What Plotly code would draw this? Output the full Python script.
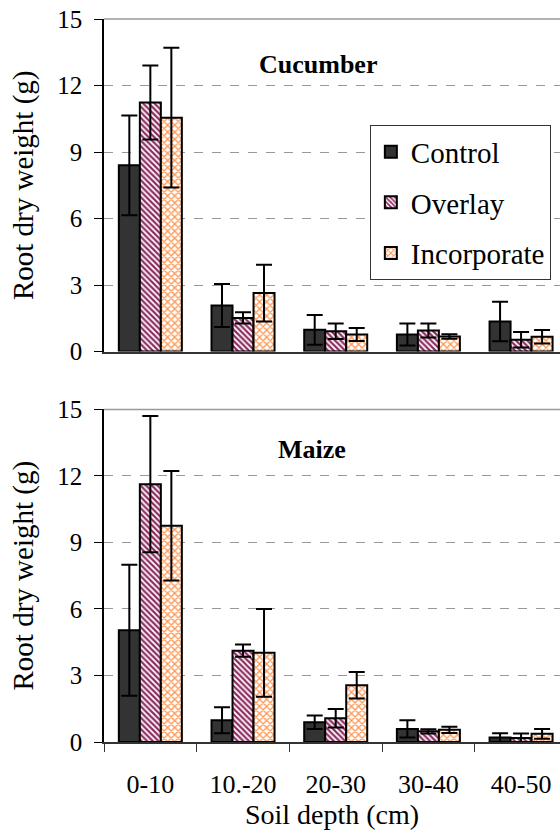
import plotly.graph_objects as go

depths = ["0-10", "10.-20", "20-30", "30-40", "40-50"]
series_names = ["Control", "Overlay", "Incorporate"]

cuc_control = [8.4, 2.08, 0.98, 0.77, 1.36]
cuc_control_err = [2.25, 0.97, 0.67, 0.5, 0.89]
cuc_overlay = [11.23, 1.52, 0.92, 0.95, 0.53]
cuc_overlay_err = [1.67, 0.25, 0.35, 0.32, 0.35]
cuc_incorp = [10.55, 2.64, 0.77, 0.68, 0.67]
cuc_incorp_err = [3.15, 1.28, 0.29, 0.1, 0.3]

mai_control = [5.04, 0.98, 0.89, 0.59, 0.2]
mai_control_err = [2.95, 0.59, 0.3, 0.39, 0.19]
mai_overlay = [11.63, 4.12, 1.07, 0.48, 0.18]
mai_overlay_err = [3.07, 0.28, 0.42, 0.1, 0.2]
mai_incorp = [9.75, 4.02, 2.56, 0.55, 0.37]
mai_incorp_err = [2.47, 1.98, 0.6, 0.14, 0.22]

y_ticks = [0, 3, 6, 9, 12, 15]

FONT = "Liberation Serif"

styles = {
    "Control": dict(color="#333333", pattern=None),
    "Overlay": dict(color="white", pattern=dict(shape="\\", fgcolor="#8E2E62", bgcolor="white", size=4, solidity=0.55, fgopacity=1)),
    "Incorporate": dict(color="white", pattern=dict(shape="x", fgcolor="#FF9550", bgcolor="white", size=5, solidity=0.45, fgopacity=1)),
}

fig = go.Figure()

panels = [
    ("x", "y", [cuc_control, cuc_overlay, cuc_incorp], [cuc_control_err, cuc_overlay_err, cuc_incorp_err], True),
    ("x2", "y2", [mai_control, mai_overlay, mai_incorp], [mai_control_err, mai_overlay_err, mai_incorp_err], False),
]

for xa, ya, vals, errs, show in panels:
    for name, v, e in zip(series_names, vals, errs):
        st = styles[name]
        marker = dict(color=st["color"], line=dict(color="black", width=2))
        if st["pattern"] is not None:
            marker["pattern"] = st["pattern"]
        fig.add_trace(go.Bar(
            x=depths, y=v, name=name, xaxis=xa, yaxis=ya,
            marker=marker, showlegend=show, legendgroup=name,
            error_y=dict(type="data", array=e, visible=True, color="black", thickness=2, width=8),
        ))

xrange = [-0.5, 4.42]
common_y = dict(
    range=[0, 15], tickvals=y_ticks, showline=True, linecolor="black", linewidth=1.5,
    ticks="outside", ticklen=8, tickcolor="black", showgrid=True, gridcolor="#999999",
    griddash="dash", gridwidth=1, zeroline=False, ticklabelstandoff=7,
    tickfont=dict(family=FONT, size=25, color="black"),
    title=dict(text="Root dry weight (g)", font=dict(family=FONT, size=29, color="black"), standoff=15),
)

fig.update_layout(
    width=560, height=832,
    margin=dict(l=104, r=0, t=19, b=90),
    paper_bgcolor="white", plot_bgcolor="white",
    barmode="group", bargap=0.32, bargroupgap=0,
    font=dict(family=FONT, color="black"),
    xaxis=dict(domain=[0, 1], anchor="y", range=xrange, showticklabels=False, showline=True,
               linecolor="#333333", linewidth=1.5, ticks="", showgrid=False),
    yaxis=dict(domain=[0.54, 1], anchor="x", **common_y),
    xaxis2=dict(domain=[0, 1], anchor="y2", range=xrange, showline=True, linecolor="#333333",
                linewidth=1.5, ticks="outside", tickson="boundaries", ticklen=8, tickcolor="#333333",
                showgrid=False, tickfont=dict(family=FONT, size=26, color="black"), ticklabelstandoff=18,
                title=dict(text="Soil depth (cm)", font=dict(family=FONT, size=28, color="black"), standoff=0)),
    yaxis2=dict(domain=[0, 0.46], anchor="x2", **common_y),
    legend=dict(x=0.583, y=0.853, xanchor="left", yanchor="top", bgcolor="white",
                bordercolor="#333333", borderwidth=1, font=dict(family=FONT, size=29, color="black"),
                traceorder="grouped", tracegroupgap=10, itemwidth=30),
    showlegend=True,
)

fig.add_annotation(text="<b>Cucumber</b>", x=1.81, y=12.95, xref="x", yref="y",
                   showarrow=False, font=dict(family=FONT, size=26, color="black"))
fig.add_annotation(text="<b>Maize</b>", x=1.74, y=13.18, xref="x2", yref="y2",
                   showarrow=False, font=dict(family=FONT, size=26, color="black"))

# top border lines of both plot areas
for yref in ["y domain", "y2 domain"]:
    fig.add_shape(type="line", xref="x domain", yref=yref, x0=0, x1=1, y0=1, y1=1,
                  line=dict(color="#999999", width=1.5))

fig.write_html("out.html", config={"displayModeBar": False},
               post_script="document.body.style.margin='0px';")
